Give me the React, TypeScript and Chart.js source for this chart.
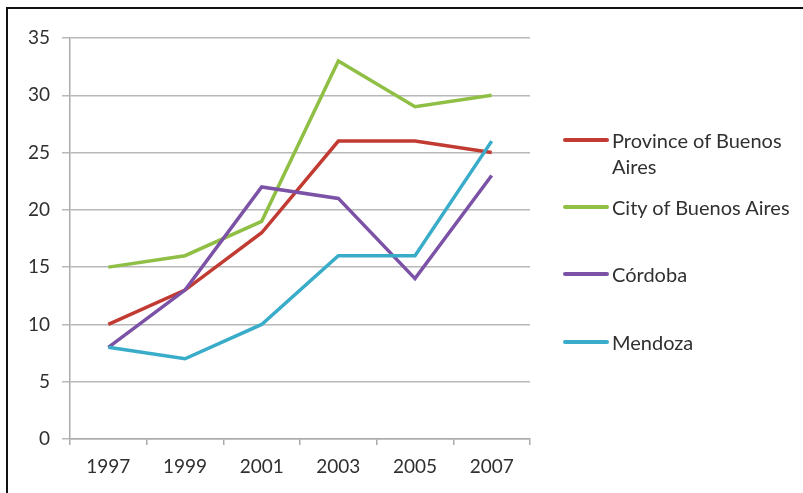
import React, { useEffect, useRef } from "react";
import { Chart, registerables } from "chart.js";

Chart.register(...registerables);

const years = ["1997", "1999", "2001", "2003", "2005", "2007"];
const seriesNames = ["Province of Buenos Aires", "City of Buenos Aires", "Córdoba", "Mendoza"];
const provinceBA = [10, 13, 18, 26, 26, 25];
const cityBA = [15, 16, 19, 33, 29, 30];
const cordoba = [8, 13, 22, 21, 14, 23];
const mendoza = [8, 7, 10, 16, 16, 26];
const colors = ["#C23B32", "#8FBF44", "#7B52A6", "#38ACC8"];

const FONT = "Lato, 'Open Sans', sans-serif";

export default function App() {
  const ref = useRef<HTMLCanvasElement>(null);
  useEffect(() => {
    if (!ref.current) return;
    const values = [provinceBA, cityBA, cordoba, mendoza];
    const chart = new Chart(ref.current, {
      type: "line",
      data: {
        labels: years,
        datasets: values.map((v, i) => ({
          label: seriesNames[i],
          data: v,
          borderColor: colors[i],
          backgroundColor: colors[i],
          borderWidth: 3.5,
          pointRadius: 0,
          tension: 0,
          order: 3 - i,
        })),
      },
      options: {
        animation: false,
        responsive: false,
        layout: { padding: { top: 38, right: 273, left: 0, bottom: 0 } },
        plugins: { legend: { display: false }, tooltip: { enabled: false } },
        scales: {
          x: {
            offset: true,
            grid: {
              offset: true,
              drawOnChartArea: false,
              drawTicks: true,
              tickLength: 6,
              color: "#ababab",
              lineWidth: 1.5,
            },
            border: { color: "#ababab", width: 1.5 },
            ticks: { color: "#303030", font: { family: FONT, size: 19 }, padding: 10, maxRotation: 0 },
            afterFit: (s: any) => {
              s.height = 54;
            },
          },
          y: {
            min: 0,
            max: 35,
            ticks: { stepSize: 5, color: "#303030", font: { family: FONT, size: 19 }, padding: 12 },
            grid: { color: "#b8b8b8", lineWidth: 1.5, tickLength: 8 },
            border: { color: "#ababab", width: 1.5 },
            afterFit: (s: any) => {
              s.width = 70;
            },
          },
        },
      },
    });
    return () => chart.destroy();
  }, []);

  const legendItems = [
    { top: 127, lines: ["Province of Buenos", "Aires"] },
    { top: 194, lines: ["City of Buenos Aires"] },
    { top: 261, lines: ["Córdoba"] },
    { top: 329, lines: ["Mendoza"] },
  ];

  return (
    <div style={{ position: "fixed", inset: 0, overflow: "hidden", background: "#fff" }}>
      <div
        style={{
          position: "absolute",
          left: 6,
          top: 7,
          width: 900,
          height: 600,
          border: "2px solid #111",
          boxSizing: "border-box",
        }}
      />
      <canvas ref={ref} width={803} height={493} style={{ position: "absolute", left: 0, top: 0 }} />
      {legendItems.map((it, i) => (
        <div
          key={i}
          style={{
            position: "absolute",
            left: 563,
            top: it.top,
            fontFamily: FONT,
            fontSize: 20,
            lineHeight: "26px",
            color: "#303030",
            whiteSpace: "nowrap",
          }}
        >
          <div style={{ display: "flex", alignItems: "center" }}>
            <span
              style={{
                display: "inline-block",
                width: 46,
                height: 4,
                background: colors[i],
                borderRadius: 2,
                marginRight: 3,
              }}
            />
            <span>{it.lines[0]}</span>
          </div>
          {it.lines.slice(1).map((l, j) => (
            <div key={j} style={{ paddingLeft: 49 }}>
              {l}
            </div>
          ))}
        </div>
      ))}
    </div>
  );
}
